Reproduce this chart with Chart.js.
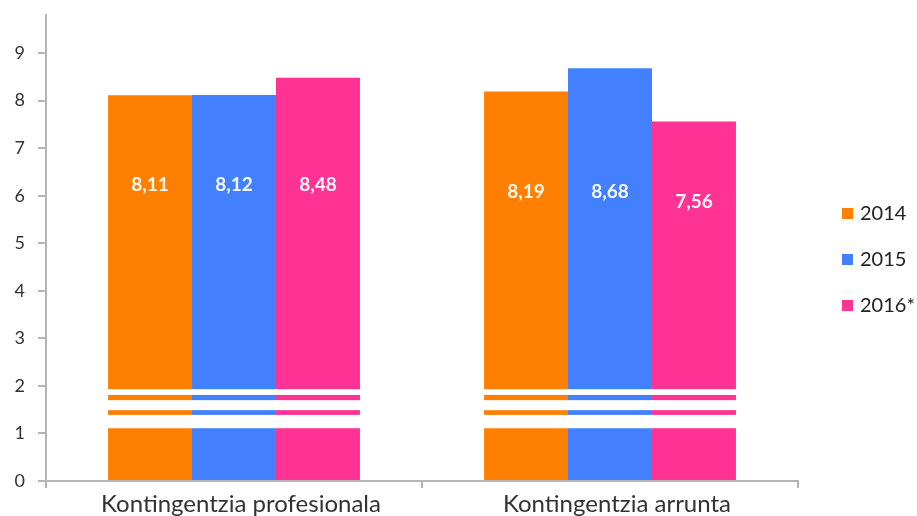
<!DOCTYPE html>
<html>
<head>
<meta charset="utf-8">
<script src="https://cdn.jsdelivr.net/npm/chart.js@4.4.0/dist/chart.umd.min.js"></script>
<style>
    html, body { margin: 0; padding: 0; background: #fff; }
    #wrap { position: relative; width: 917px; height: 516px; }
    #legend { position: absolute; left: 842px; top: 198px; font-family: Lato, sans-serif; font-size: 20px; color: #222; }
    #legend div { height: 46px; line-height: 28px; white-space: nowrap; }
    #legend span.box { display: inline-block; width: 11px; height: 11px; margin-right: 7px; vertical-align: 1px; }
</style>
</head>
<body>
<div id="wrap">
    <canvas id="chart" width="917" height="516"></canvas>
    <div id="legend"></div>
</div>
<script>
// data
var categories = ['Kontingentzia profesionala', 'Kontingentzia arrunta'];
var years = ['2014', '2015', '2016*'];
var values2014 = [8.11, 8.19];
var values2015 = [8.12, 8.68];
var values2016 = [8.48, 7.56];
var yTicks = [0, 1, 2, 3, 4, 5, 6, 7, 8, 9];

var colors = ['#FF7F00', '#4280FF', '#FF3393'];

// where the value labels sit (in axis units), one row per year
var labelLevels = [[6.23, 6.08], [6.23, 6.08], [6.23, 5.87]];
// white stripes of the axis break (axis units)
var breakBands = [[1.81, 1.93], [1.49, 1.70], [1.11, 1.39]];

function fmt(v) {
    return v.toFixed(2).replace('.', ',');
}

// axis break + labels
var barExtras = {
    id: 'barExtras',
    afterDatasetsDraw: function (chart) {
        var ctx = chart.ctx;
        var y = chart.scales.y;
        ctx.save();
        // stripes
        ctx.fillStyle = '#ffffff';
        chart.data.datasets.forEach(function (ds, di) {
            chart.getDatasetMeta(di).data.forEach(function (bar) {
                var half = bar.width / 2;
                breakBands.forEach(function (b) {
                    var top = y.getPixelForValue(b[1]);
                    var bottom = y.getPixelForValue(b[0]);
                    ctx.fillRect(bar.x - half - 0.5, top, bar.width + 1, bottom - top);
                });
            });
        });
        // value labels
        ctx.fillStyle = 'rgba(255,255,255,0.95)';
        ctx.font = 'bold 19px Lato, sans-serif';
        ctx.textAlign = 'center';
        ctx.textBaseline = 'middle';
        chart.data.datasets.forEach(function (ds, di) {
            chart.getDatasetMeta(di).data.forEach(function (bar, i) {
                ctx.fillText(fmt(ds.data[i]), bar.x, y.getPixelForValue(labelLevels[di][i]));
            });
        });
        ctx.restore();
    }
};

var seriesValues = [values2014, values2015, values2016];
var datasets = years.map(function (yr, i) {
    return {
        label: yr,
        data: seriesValues[i],
        backgroundColor: colors[i],
        borderWidth: 0,
        barPercentage: 1.0,
        categoryPercentage: 0.67
    };
});

new Chart(document.getElementById('chart'), {
    type: 'bar',
    data: { labels: categories, datasets: datasets },
    plugins: [barExtras],
    options: {
        responsive: false,
        animation: false,
        layout: { padding: { top: 15, right: 119, left: 0, bottom: 0 } },
        plugins: {
            legend: { display: false },
            tooltip: { enabled: false }
        },
        scales: {
            x: {
                grid: { display: true, offset: true, drawOnChartArea: false, drawTicks: true, tickLength: 7, color: '#b5b5b5', lineWidth: 2 },
                border: { display: true, color: '#b5b5b5', width: 2 },
                ticks: { color: '#333', font: { family: 'Lato', size: 24 }, padding: 2, labelOffset: 7 },
                afterFit: function (s) { s.height = 35; s.paddingLeft = 0; s.paddingRight = 0; }
            },
            y: {
                min: 0,
                max: 9.8,
                afterBuildTicks: function (s) {
                    s.ticks = yTicks.map(function (v) { return { value: v }; });
                },
                grid: { display: true, drawOnChartArea: false, drawTicks: true, tickLength: 8, color: '#b5b5b5', lineWidth: 2 },
                border: { display: true, color: '#b5b5b5', width: 2 },
                ticks: { color: '#333', font: { family: 'Lato', size: 18 }, padding: 13 },
                afterFit: function (s) { s.width = 46; s.paddingTop = 0; s.paddingBottom = 0; }
            }
        }
    }
});

// legend
var legend = document.getElementById('legend');
years.forEach(function (yr, i) {
    var row = document.createElement('div');
    row.innerHTML = '<span class="box" style="background:' + colors[i] + '"></span>' + yr;
    legend.appendChild(row);
});
</script>
</body>
</html>
